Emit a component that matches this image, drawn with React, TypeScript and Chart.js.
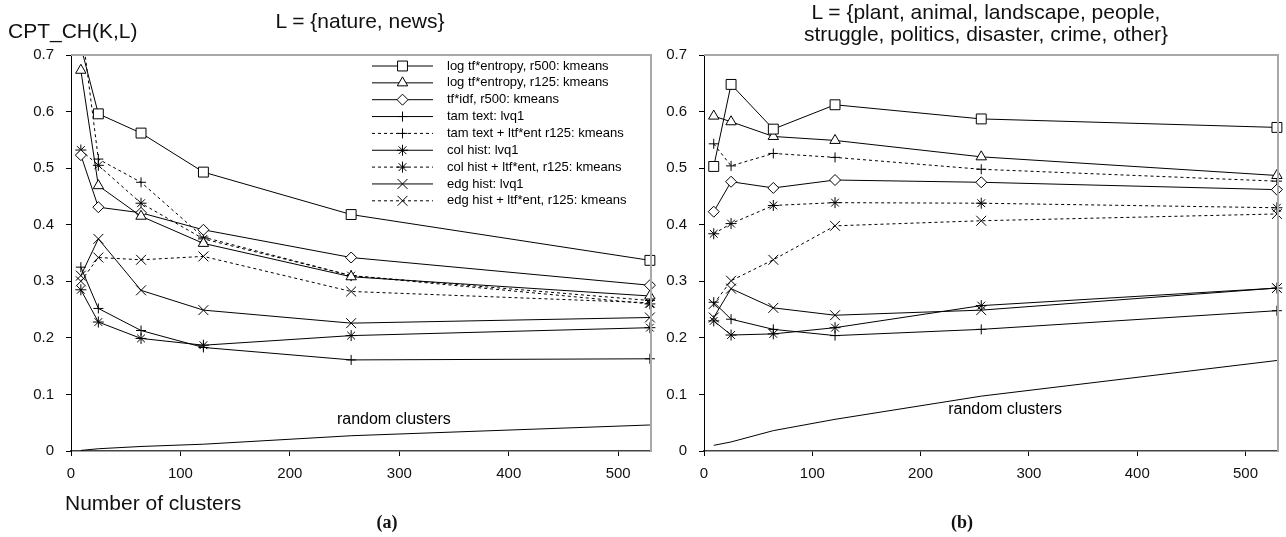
import React, { useEffect, useRef } from 'react';
import { Chart, registerables } from 'chart.js';

Chart.register(...registerables);

// ---------- data ----------
const CLUSTERS = [9, 25, 64, 121, 256, 529];
const X_TICKS = [0, 100, 200, 300, 400, 500];
const Y_TICKS = [0, 0.1, 0.2, 0.3, 0.4, 0.5, 0.6, 0.7];

const SERIES_LABELS = [
  'log tf*entropy, r500: kmeans',
  'log tf*entropy, r125: kmeans',
  'tf*idf, r500: kmeans',
  'tam text: lvq1',
  'tam text + ltf*ent r125: kmeans',
  'col hist: lvq1',
  'col hist + ltf*ent, r125: kmeans',
  'edg hist: lvq1',
  'edg hist + ltf*ent, r125: kmeans',
];
const RANDOM_LABEL = 'random clusters';

// (a) L = {nature, news}
const A_LOGTFENT_R500 = [0.715, 0.596, 0.562, 0.493, 0.418, 0.337];
const A_LOGTFENT_R125 = [0.673, 0.469, 0.415, 0.367, 0.308, 0.274];
const A_TFIDF_R500 = [0.523, 0.431, 0.421, 0.391, 0.342, 0.293];
const A_TAM_LVQ = [0.325, 0.252, 0.213, 0.183, 0.161, 0.163];
const A_TAM_LTF = [0.76, 0.516, 0.475, 0.378, 0.31, 0.266];
const A_COL_LVQ = [0.285, 0.228, 0.199, 0.187, 0.204, 0.218];
const A_COL_LTF = [0.532, 0.505, 0.438, 0.375, 0.31, 0.26];
const A_EDG_LVQ = [0.31, 0.375, 0.284, 0.249, 0.226, 0.236];
const A_EDG_LTF = [0.3, 0.342, 0.338, 0.344, 0.282, 0.262];
const A_RANDOM = [0.001, 0.004, 0.008, 0.012, 0.027, 0.046];

// (b) L = {plant, animal, ...}
const B_LOGTFENT_R500 = [0.503, 0.648, 0.569, 0.612, 0.587, 0.572];
const B_LOGTFENT_R125 = [0.592, 0.582, 0.556, 0.549, 0.52, 0.487];
const B_TFIDF_R500 = [0.423, 0.476, 0.465, 0.479, 0.475, 0.462];
const B_TAM_LVQ = [0.263, 0.233, 0.215, 0.204, 0.215, 0.248];
const B_TAM_LTF = [0.543, 0.504, 0.526, 0.519, 0.498, 0.477];
const B_COL_LVQ = [0.23, 0.205, 0.207, 0.218, 0.257, 0.288];
const B_COL_LTF = [0.384, 0.402, 0.434, 0.439, 0.438, 0.43];
const B_EDG_LVQ = [0.236, 0.287, 0.253, 0.24, 0.249, 0.288];
const B_EDG_LTF = [0.26, 0.301, 0.338, 0.398, 0.407, 0.419];
const B_RANDOM = [0.01, 0.016, 0.036, 0.056, 0.097, 0.16];

const A_SERIES = [A_LOGTFENT_R500, A_LOGTFENT_R125, A_TFIDF_R500, A_TAM_LVQ, A_TAM_LTF, A_COL_LVQ, A_COL_LTF, A_EDG_LVQ, A_EDG_LTF];
const B_SERIES = [B_LOGTFENT_R500, B_LOGTFENT_R125, B_TFIDF_R500, B_TAM_LVQ, B_TAM_LTF, B_COL_LVQ, B_COL_LTF, B_EDG_LVQ, B_EDG_LTF];

// positions of the "random clusters" annotation (data units)
const A_RANDOM_LABEL_AT = { x: 295, y: 0.055 };
const B_RANDOM_LABEL_AT = { x: 278, y: 0.073 };

// ---------- styles ----------
const FONT = '"Liberation Sans", Arial, Helvetica, sans-serif';
const SERIF = '"Liberation Serif", "Times New Roman", serif';
const DASH = [3, 3];
const STYLES = [
  { pointStyle: 'rect', radius: 7, dash: [] as number[] },
  { pointStyle: 'triangle', radius: 6, dash: [] as number[] },
  { pointStyle: 'rectRot', radius: 5.5, dash: [] as number[] },
  { pointStyle: 'cross', radius: 5, dash: [] as number[] },
  { pointStyle: 'cross', radius: 5, dash: DASH },
  { pointStyle: 'star', radius: 5.5, dash: [] as number[] },
  { pointStyle: 'star', radius: 5.5, dash: DASH },
  { pointStyle: 'crossRot', radius: 7, dash: [] as number[] },
  { pointStyle: 'crossRot', radius: 7, dash: DASH },
];

function drawMarker(ctx: CanvasRenderingContext2D, style: string, r: number, x: number, y: number) {
  ctx.beginPath();
  let rad = 0;
  switch (style) {
    case 'rect': {
      const s = Math.SQRT1_2 * r;
      ctx.rect(x - s, y - s, 2 * s, 2 * s);
      ctx.fill();
      ctx.stroke();
      break;
    }
    case 'triangle': {
      ctx.moveTo(x + Math.sin(rad) * r, y - Math.cos(rad) * r);
      rad += (Math.PI * 2) / 3;
      ctx.lineTo(x + Math.sin(rad) * r, y - Math.cos(rad) * r);
      rad += (Math.PI * 2) / 3;
      ctx.lineTo(x + Math.sin(rad) * r, y - Math.cos(rad) * r);
      ctx.closePath();
      ctx.fill();
      ctx.stroke();
      break;
    }
    case 'rectRot': {
      ctx.moveTo(x - r, y);
      ctx.lineTo(x, y - r);
      ctx.lineTo(x + r, y);
      ctx.lineTo(x, y + r);
      ctx.closePath();
      ctx.fill();
      ctx.stroke();
      break;
    }
    case 'cross': {
      ctx.moveTo(x, y - r);
      ctx.lineTo(x, y + r);
      ctx.moveTo(x - r, y);
      ctx.lineTo(x + r, y);
      ctx.stroke();
      break;
    }
    case 'crossRot': {
      const d = Math.SQRT1_2 * r;
      ctx.moveTo(x - d, y - d);
      ctx.lineTo(x + d, y + d);
      ctx.moveTo(x + d, y - d);
      ctx.lineTo(x - d, y + d);
      ctx.stroke();
      break;
    }
    case 'star': {
      const d = Math.SQRT1_2 * r;
      ctx.moveTo(x, y - r);
      ctx.lineTo(x, y + r);
      ctx.moveTo(x - r, y);
      ctx.lineTo(x + r, y);
      ctx.moveTo(x - d, y - d);
      ctx.lineTo(x + d, y + d);
      ctx.moveTo(x + d, y - d);
      ctx.lineTo(x - d, y + d);
      ctx.stroke();
      break;
    }
  }
}

const legendPlugin = {
  id: 'cptLegend',
  afterDatasetsDraw(chart: any) {
    const ctx: CanvasRenderingContext2D = chart.ctx;
    const x0 = 372;
    const x1 = 433;
    const xm = (x0 + x1) / 2;
    const textX = 447;
    const y0 = 66;
    const step = 16.85;
    ctx.save();
    SERIES_LABELS.forEach((label, i) => {
      const st = STYLES[i];
      const y = y0 + i * step;
      ctx.strokeStyle = '#000';
      ctx.fillStyle = '#fff';
      ctx.lineWidth = 1;
      ctx.setLineDash(st.dash);
      ctx.beginPath();
      ctx.moveTo(x0, y);
      ctx.lineTo(x1, y);
      ctx.stroke();
      ctx.setLineDash([]);
      drawMarker(ctx, st.pointStyle, st.radius, xm, y);
      ctx.fillStyle = '#000';
      ctx.font = `13px ${FONT}`;
      ctx.textAlign = 'left';
      ctx.textBaseline = 'middle';
      ctx.fillText(label, textX, y);
    });
    ctx.restore();
  },
};

const framePlugin = {
  id: 'cptFrame',
  afterDraw(chart: any) {
    const { ctx, chartArea } = chart;
    ctx.save();
    ctx.strokeStyle = '#a8a8a8';
    ctx.lineWidth = 2;
    ctx.beginPath();
    ctx.moveTo(chartArea.left, chartArea.top);
    ctx.lineTo(chartArea.right, chartArea.top);
    ctx.lineTo(chartArea.right, chartArea.bottom);
    ctx.stroke();
    const at = chart.options.plugins.randomLabel;
    if (at) {
      const px = chart.scales.x.getPixelForValue(at.x);
      const py = chart.scales.y.getPixelForValue(at.y);
      ctx.fillStyle = '#000';
      ctx.font = `16px ${FONT}`;
      ctx.textAlign = 'center';
      ctx.textBaseline = 'middle';
      ctx.fillText(RANDOM_LABEL, px, py);
    }
    ctx.restore();
  },
};

function buildDatasets(series: number[][], random: number[]) {
  const ds: any[] = series.map((arr, i) => ({
    label: SERIES_LABELS[i],
    data: CLUSTERS.map((x, j) => ({ x, y: arr[j] })),
    borderColor: '#000',
    borderWidth: 1,
    borderDash: STYLES[i].dash,
    pointStyle: STYLES[i].pointStyle,
    pointRadius: STYLES[i].radius,
    pointBorderColor: '#000',
    pointBackgroundColor: '#fff',
    pointBorderWidth: 1,
    fill: false,
    tension: 0,
    clip: { left: false, top: 0, right: false, bottom: false },
  }));
  ds.push({
    label: RANDOM_LABEL,
    data: CLUSTERS.map((x, j) => ({ x, y: random[j] })),
    borderColor: '#000',
    borderWidth: 1,
    pointRadius: 0,
    fill: false,
    tension: 0,
  });
  return ds;
}

function CptChart(props: {
  series: number[][];
  random: number[];
  left: number;
  width: number;
  yAxisWidth: number;
  padRight: number;
  legend: boolean;
  labelAt: { x: number; y: number };
}) {
  const ref = useRef<HTMLCanvasElement>(null);
  useEffect(() => {
    if (!ref.current) return;
    const chart = new Chart(ref.current, {
      type: 'line',
      data: { datasets: buildDatasets(props.series, props.random) },
      options: {
        animation: false,
        responsive: false,
        devicePixelRatio: 1,
        events: [],
        layout: { padding: { top: 55, right: props.padRight, bottom: 46, left: 0 } },
        plugins: {
          legend: { display: false },
          tooltip: { enabled: false },
          title: { display: false },
          randomLabel: props.labelAt,
        } as any,
        scales: {
          x: {
            type: 'linear',
            min: 0,
            max: 530,
            afterBuildTicks: (axis: any) => {
              axis.ticks = X_TICKS.map((v) => ({ value: v }));
            },
            afterFit: (axis: any) => {
              axis.height = 40;
            },
            grid: { drawOnChartArea: false, drawTicks: true, tickLength: 5, color: '#000' },
            border: { color: '#444', width: 1.5 },
            ticks: {
              font: { family: FONT, size: 15 },
              color: '#111',
              padding: 9,
              maxRotation: 0,
              autoSkip: false,
              callback: (v: any) => String(v),
            },
          },
          y: {
            type: 'linear',
            min: 0,
            max: 0.7,
            afterBuildTicks: (axis: any) => {
              axis.ticks = Y_TICKS.map((v) => ({ value: v }));
            },
            afterFit: (axis: any) => {
              axis.width = props.yAxisWidth;
            },
            grid: { drawOnChartArea: false, drawTicks: true, tickLength: 5, color: '#000' },
            border: { color: '#000', width: 1 },
            ticks: {
              font: { family: FONT, size: 15 },
              color: '#111',
              padding: 12,
              autoSkip: false,
              callback: (v: any) => (Number(v) === 0 ? '0' : Number(v).toFixed(1)),
            },
          },
        },
      },
      plugins: props.legend ? [framePlugin, legendPlugin] : [framePlugin],
    } as any);
    return () => chart.destroy();
  }, []);
  return (
    <canvas
      ref={ref}
      width={props.width}
      height={537}
      style={{ position: 'absolute', left: props.left, top: 0, width: props.width, height: 537, display: 'block' }}
    />
  );
}

const textBase: React.CSSProperties = {
  position: 'absolute',
  fontFamily: FONT,
  color: '#111',
  whiteSpace: 'nowrap',
  lineHeight: '24px',
};

export default function App() {
  return (
    <div style={{ position: 'absolute', left: 0, top: 0, width: 1286, height: 537, background: '#fff', overflow: 'hidden' }}>
      <CptChart series={A_SERIES} random={A_RANDOM} left={0} width={660} yAxisWidth={71} padRight={9} legend={true} labelAt={A_RANDOM_LABEL_AT} />
      <CptChart series={B_SERIES} random={B_RANDOM} left={660} width={626} yAxisWidth={44} padRight={8} legend={false} labelAt={B_RANDOM_LABEL_AT} />
      <div style={{ ...textBase, left: 8, top: 19, fontSize: 21 }}>CPT_CH(K,L)</div>
      <div style={{ ...textBase, left: 360, top: 9, fontSize: 21, transform: 'translateX(-50%)' }}>L = {'{'}nature, news{'}'}</div>
      <div style={{ ...textBase, left: 986, top: 1, fontSize: 21, lineHeight: '22px', transform: 'translateX(-50%)', textAlign: 'center' }}>
        L = {'{'}plant, animal, landscape, people,
        <br />
        struggle, politics, disaster, crime, other{'}'}
      </div>
      <div style={{ ...textBase, left: 65, top: 491, fontSize: 21 }}>Number of clusters</div>
      <div style={{ ...textBase, left: 387, top: 510, fontSize: 18, fontWeight: 'bold', fontFamily: SERIF, transform: 'translateX(-50%)' }}>(a)</div>
      <div style={{ ...textBase, left: 962, top: 510, fontSize: 18, fontWeight: 'bold', fontFamily: SERIF, transform: 'translateX(-50%)' }}>(b)</div>
    </div>
  );
}
